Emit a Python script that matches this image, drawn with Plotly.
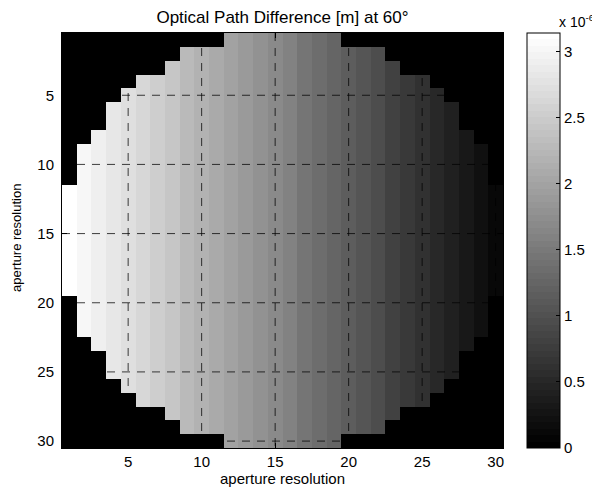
import plotly.graph_objects as go

# ---- data ----
n = 30
rows = list(range(1, n + 1))
cols = list(range(1, n + 1))
# OPD per aperture column (metres)
col_opd = [3.14e-6, 3.04e-6, 2.93e-6, 2.83e-6, 2.72e-6, 2.62e-6, 2.51e-6, 2.41e-6,
           2.30e-6, 2.20e-6, 2.09e-6, 1.99e-6, 1.88e-6, 1.78e-6, 1.67e-6, 1.57e-6,
           1.46e-6, 1.36e-6, 1.25e-6, 1.15e-6, 1.04e-6, 0.94e-6, 0.83e-6, 0.73e-6,
           0.62e-6, 0.52e-6, 0.41e-6, 0.31e-6, 0.20e-6, 0.10e-6]
# circular aperture: first and last lit column in each row
row_first = [12, 9, 8, 6, 5, 4, 4, 3, 2, 2, 2, 1, 1, 1, 1, 1, 1, 1, 1, 2, 2, 2, 3, 4, 4, 5, 6, 8, 9, 12]
row_last = [19, 22, 23, 25, 26, 27, 27, 28, 29, 29, 29, 30, 30, 30, 30, 30, 30, 30, 30, 29, 29, 29, 28, 27, 27, 26, 25, 23, 22, 19]
tick_vals = [5, 10, 15, 20, 25, 30]
cbar_vals = [0, 0.5e-6, 1.0e-6, 1.5e-6, 2.0e-6, 2.5e-6, 3.0e-6]
cbar_text = ["0", "0.5", "1", "1.5", "2", "2.5", "3"]
z_max = 3.14e-6

z = []
for i, r in enumerate(rows):
    z.append([col_opd[j] if row_first[i] <= c <= row_last[i] else 0.0
              for j, c in enumerate(cols)])

# MATLAB-like gray(64) discrete colormap
levels = 64
cscale = []
for k in range(levels):
    g = round(255 * k / (levels - 1))
    col = f"rgb({g},{g},{g})"
    cscale.append([k / levels, col])
    cscale.append([(k + 1) / levels, col])

FONT = "Arial, Liberation Sans, sans-serif"
FS = 15
PAGE = 8  # default body margin of the html page

fig = go.Figure(go.Heatmap(
    x=cols, y=rows, z=z, zmin=0, zmax=z_max, colorscale=cscale,
    hoverinfo="skip",
    colorbar=dict(
        x=(527 - 62) / 441, xanchor="left", xpad=0, ypad=0,
        thickness=33, thicknessmode="pixels",
        len=1.0, lenmode="fraction", y=0.5, yanchor="middle",
        outlinecolor="black", outlinewidth=1,
        tickvals=cbar_vals, ticktext=cbar_text,
        ticks="inside", ticklen=4, tickcolor="black",
        tickfont=dict(family=FONT, size=FS, color="black"),
    ),
))

shapes = []
for v in tick_vals:
    shapes.append(dict(type="line", xref="x", yref="y", x0=v, x1=v, y0=0.5, y1=30.5,
                       layer="above", line=dict(color="rgba(0,0,0,0.75)", width=1, dash="8px,7px")))
    shapes.append(dict(type="line", xref="x", yref="y", x0=0.5, x1=30.5, y0=v, y1=v,
                       layer="above", line=dict(color="rgba(0,0,0,0.75)", width=1, dash="8px,7px")))

W, H = 600 - PAGE, 493 - PAGE
fig.update_layout(
    width=W, height=H,
    margin=dict(l=62 - PAGE, r=600 - 503, t=33 - PAGE, b=493 - 448, autoexpand=False),
    paper_bgcolor="white", plot_bgcolor="white",
    font=dict(family=FONT, size=FS, color="black"),
    title=dict(text="Optical Path Difference [m] at 60°", x=((62 + 503) / 2 - PAGE) / W, xanchor="center",
               y=1 - (17 - PAGE) / H, yanchor="middle", font=dict(family=FONT, size=17, color="black")),
    xaxis=dict(range=[0.5, 30.5], tickvals=tick_vals, ticks="inside", ticklen=5,
               tickcolor="black", showline=True, linecolor="black", linewidth=1, mirror="ticks",
               showgrid=False, zeroline=False,
               title=dict(text="aperture resolution", standoff=2,
                          font=dict(family=FONT, size=FS, color="black"))),
    yaxis=dict(range=[30.5, 0.5], tickvals=tick_vals, ticks="inside", ticklen=5,
               tickcolor="black", showline=True, linecolor="black", linewidth=1, mirror="ticks",
               showgrid=False, zeroline=False, ticklabelstandoff=4),
    shapes=shapes,
    annotations=[
        dict(text="x 10<sup>-6</sup>", xref="paper", yref="paper",
             x=(597 - 62) / 441, y=(448 - 21) / 415, xanchor="right", yanchor="middle",
             showarrow=False, font=dict(family=FONT, size=14, color="black")),
        dict(text="aperture resolution", xref="paper", yref="paper", textangle=-90,
             x=(16 - 62) / 441, y=(448 - 238) / 415, xanchor="center", yanchor="middle",
             showarrow=False, font=dict(family=FONT, size=13, color="black")),
    ],
)

fig.write_html("out.html")
